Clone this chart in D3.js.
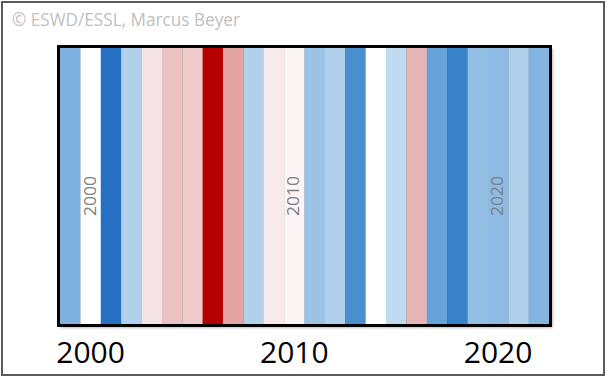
<!DOCTYPE html>
<html><head><meta charset="utf-8">
<script src="https://cdn.jsdelivr.net/npm/d3@7"></script>
<style>html,body{margin:0;padding:0;background:#fff;}svg{display:block;}</style>
</head><body>
<script>
const years = d3.range(1999, 2023);
const colors = ["#7EB1DE","#FFFFFF","#2570C2","#B0D0EC","#F6E4E4","#EBC1C1","#F0CBCB","#B40000","#E3A4A4","#B0D0EC","#F8EAEA","#FCF5F5",
  "#9AC3E6","#B0D0EC","#4A90D0","#FFFFFF","#C0DBF0","#E6B5B5","#66A3D8","#3782C8","#94BFE4","#8DBBE3","#B0D0EC","#84B5E0"];
const tickYears = [2000, 2010, 2020];
const credit = "© ESWD/ESSL, Marcus Beyer";

const W = 608, H = 379;
const svg = d3.select("body").append("svg").attr("width", W).attr("height", H);
const defs = svg.append("defs");
const f = defs.append("filter").attr("id","sh").attr("x","-5%").attr("y","-5%").attr("width","115%").attr("height","115%");
f.append("feDropShadow").attr("dx",2).attr("dy",2).attr("stdDeviation",1.5).attr("flood-color","#000").attr("flood-opacity",0.35);

svg.append("rect").attr("x",0).attr("y",0).attr("width",W).attr("height",H).attr("fill","#fff");
svg.append("rect").attr("x",2).attr("y",2).attr("width",602).attr("height",373)
  .attr("fill","none").attr("stroke","#5a5a5a").attr("stroke-width",2);

svg.append("text").attr("x",12).attr("y",26).text(credit)
  .attr("font-family","Open Sans").attr("font-size",18).attr("fill","#BFBFBF")
  .attr("textLength",228).attr("lengthAdjust","spacingAndGlyphs");

const x0 = 60, x1 = 549, y0 = 48, y1 = 324;
const x = d3.scaleBand().domain(years).range([x0, x1]).paddingInner(0).paddingOuter(0);

svg.append("rect").attr("x",x0-1.5).attr("y",y0-1.5).attr("width",x1-x0+3).attr("height",y1-y0+3)
  .attr("fill","#000").attr("filter","url(#sh)");

svg.append("g").selectAll("rect").data(years).join("rect")
  .attr("x", d => x(d)).attr("y", y0).attr("width", x.bandwidth()+0.3).attr("height", y1-y0)
  .attr("fill", (d,i) => colors[i]);

svg.append("rect").attr("x",x0-1.5).attr("y",y0-1.5).attr("width",x1-x0+3).attr("height",y1-y0+3)
  .attr("fill","none").attr("stroke","#000").attr("stroke-width",3);

// inner vertical labels
svg.append("g").selectAll("text").data(tickYears).join("text")
  .attr("transform", d => `translate(${x(d)+x.bandwidth()/2+5},196) rotate(-90)`)
  .attr("text-anchor","middle").attr("font-family","Open Sans").attr("font-size",17)
  .attr("fill","#808080").attr("textLength",40).attr("lengthAdjust","spacingAndGlyphs")
  .text(d => d);

// bottom axis
const axis = d3.axisBottom(x).tickValues(tickYears).tickSize(0).tickPadding(0);
const ag = svg.append("g").attr("transform",`translate(0,${y1})`).call(axis);
ag.select(".domain").remove();
ag.selectAll("text").attr("font-family","Open Sans").attr("font-size",30).attr("fill","#000")
  .attr("dy",null).attr("y",39);
</script>
</body></html>
